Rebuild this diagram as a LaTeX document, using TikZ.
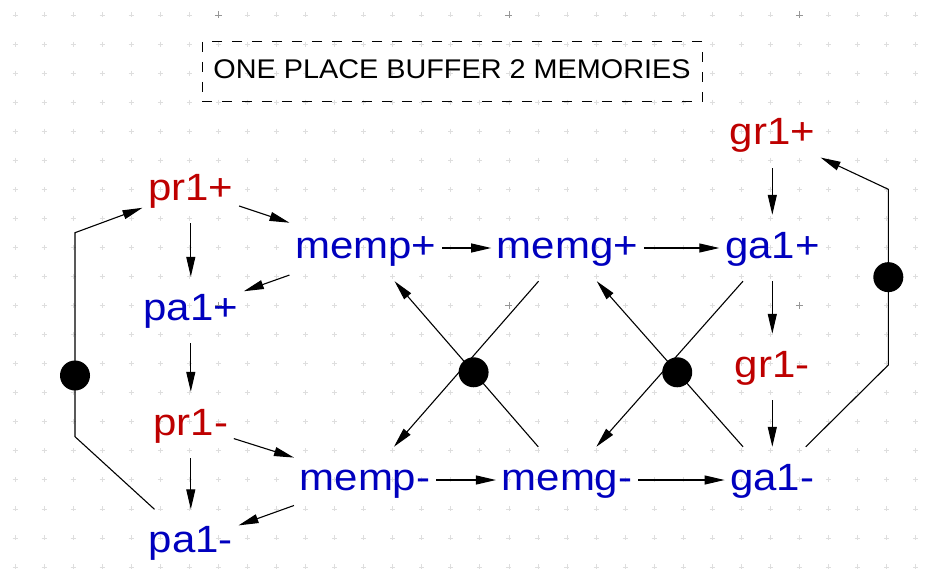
\documentclass[tikz,border=0pt]{standalone}
\usepackage{fontspec}
\usetikzlibrary{arrows.meta}
\newfontfamily\labfont[FakeStretch=1.105]{Liberation Sans}
\newfontfamily\ttlfont[FakeStretch=1.067]{Liberation Sans}
\definecolor{lred}{RGB}{190,0,0}
\definecolor{lblue}{RGB}{0,0,190}
\definecolor{gridc}{RGB}{222,222,222}
\definecolor{gridd}{RGB}{150,150,150}
\begin{document}
\begin{tikzpicture}[x=1pt,y=-1pt,
  lab/.style={font=\labfont\fontsize{38pt}{38pt}\selectfont, anchor=base,
    inner xsep=5.5pt, inner ysep=0pt, text height=43pt, text depth=23pt},
  sig/.style={lab, text=lred},
  ack/.style={lab, text=lblue},
  arr/.style={line width=1.1pt, -{Triangle[length=20pt,width=9pt]}},
  tok/.style={circle, fill=black, minimum size=30pt, inner sep=0pt},
  ttl/.style={draw, line width=1pt, dash pattern=on 10pt off 10pt,
    minimum width=500pt, minimum height=60pt, inner sep=0pt, text depth=5pt,
    font=\ttlfont\fontsize{27pt}{27pt}\selectfont}]
\useasboundingbox[fill=white] (0,0) rectangle (941,580);
% background grid
\foreach \i in {0,...,31}{
  \foreach \j in {0,...,19}{
    \draw[gridc, line width=0.7pt] ({15+29.05*\i-2.5},{15+29.05*\j}) -- ++(5,0)
      ({15+29.05*\i},{15+29.05*\j-2.5}) -- ++(0,5);
  }
}
\foreach \i in {7,17,27}{
  \foreach \j in {0,10}{
    \draw[gridd, line width=0.7pt] ({15+29.05*\i-3.5},{15+29.05*\j}) -- ++(7,0)
      ({15+29.05*\i},{15+29.05*\j-3.5}) -- ++(0,7);
  }
}
% title
\node[ttl] (title) at (452,72) {ONE PLACE BUFFER 2 MEMORIES};
% labels
\node[sig] (pr1p) at (190.8,200) {pr1+};
\node[ack] (pa1p) at (190.8,320) {pa1+};
\node[sig] (pr1m) at (190.8,435) {pr1-};
\node[ack] (pa1m) at (190.8,552.5) {pa1-};
\node[ack] (mempp) at (365.8,258) {memp+};
\node[ack] (memgp) at (567.5,258) {memg+};
\node[ack] (ga1p) at (772.3,258) {ga1+};
\node[sig] (gr1p) at (772.3,145) {gr1+};
\node[sig] (gr1m) at (772.3,377) {gr1-};
\node[ack] (mempm) at (365,490) {memp-};
\node[ack] (memgm) at (567,490) {memg-};
\node[ack] (ga1m) at (772.3,490) {ga1-};
% loop corners
\coordinate (lb) at (75,436.7);
\coordinate (lt) at (75,232.7);
\coordinate (rb) at (888.3,365);
\coordinate (rt) at (888.3,189.3);
% connectors
\draw[arr] (pr1p) -- (mempp);
\draw[arr] (pr1p) -- (pa1p);
\draw[arr] (mempp) -- (pa1p);
\draw[arr] (pa1p) -- (pr1m);
\draw[arr] (pr1m) -- (pa1m);
\draw[arr] (pr1m) -- (mempm);
\draw[arr] (mempm) -- (pa1m);
\draw[arr] (pa1m) -- (lb) -- node[tok,pos=0.3]{} (lt) -- (pr1p);
\draw[arr] (mempp) -- (memgp);
\draw[arr] (mempm) -- (memgm);
\draw[arr] (memgm) -- node[tok,pos=0.45]{} (mempp);
\draw[arr] (memgp) -- (mempm);
\draw[arr] (memgp) -- (ga1p);
\draw[arr] (memgm) -- (ga1m);
\draw[arr] (ga1m) -- node[tok,pos=0.45]{} (memgp);
\draw[arr] (ga1p) -- (memgm);
\draw[arr] (gr1p) -- (ga1p);
\draw[arr] (ga1p) -- (gr1m);
\draw[arr] (gr1m) -- (ga1m);
\draw[arr] (ga1m) -- (rb) -- node[tok,pos=0.5]{} (rt) -- (gr1p);
\end{tikzpicture}
\end{document}
